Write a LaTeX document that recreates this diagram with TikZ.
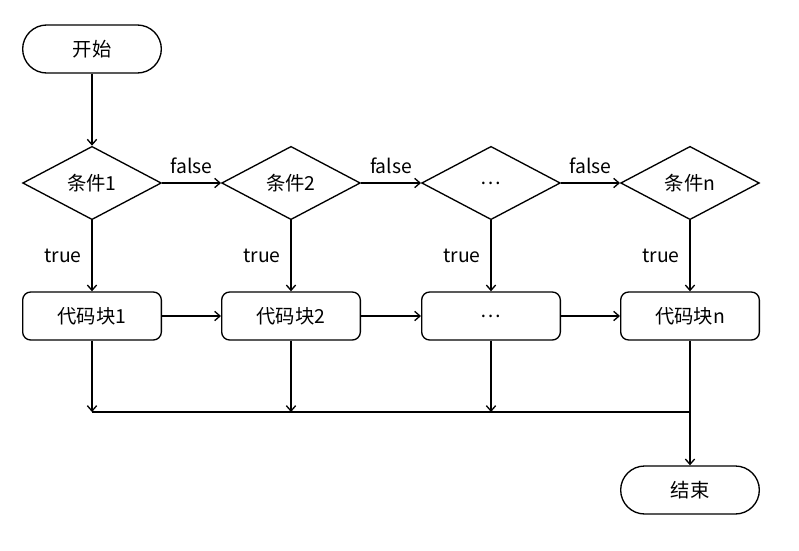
\documentclass[tikz,border=0pt]{standalone}
\usepackage{fontspec}
\setmainfont{Noto Sans CJK SC}
\usetikzlibrary{shapes.geometric,arrows.meta}
\tikzset{
    term/.style={draw,line width=1pt,rounded corners=18pt,minimum width=104pt,minimum height=36pt},
    cond/.style={draw,line width=1pt,diamond,aspect=1.9,inner sep=0pt,minimum width=104pt,minimum height=55pt},
    blk/.style={draw,line width=1pt,rounded corners=6pt,minimum width=104pt,minimum height=36pt},
    flow/.style={line width=1pt,-{Straight Barb[length=4pt,width=7pt]}}
}
\begin{document}
\begin{tikzpicture}[x=0.75pt,y=-0.75pt,font=\fontsize{14.5pt}{17pt}\selectfont]
            \useasboundingbox (0,0) rectangle (799,550);
            \node[term] (start) at (92,49) {开始};
            
            \node[cond] (c1) at (92,183) {条件1};
            \node[cond] (c2) at (291,183) {条件2};
            \node[cond] (c3) at (491,183) {…};
            \node[cond] (cn) at (690,183) {条件n};
            
            \node[blk] (b1) at (92,316) {代码块1};
            \node[blk] (b2) at (291,316) {代码块2};
            \node[blk] (b3) at (491,316) {…};
            \node[blk] (bn) at (690,316) {代码块n};
            
            \node[term] (end) at (690,490) {结束};
            \coordinate (jn) at (690,412);
            
            \draw[flow] (start)--(c1);
            \draw[flow] (c1.east)--node[above=3pt] {false}(c2.west);
            \draw[flow] (c2.east)--node[above=3pt] {false}(c3.west);
            \draw[flow] (c3.east)--node[above=3pt] {false}(cn.west);
            
            \draw[flow] (c1)--node[left=4pt] {true}(b1);
            \draw[flow] (c2)--node[left=4pt] {true}(b2);
            \draw[flow] (c3)--node[left=4pt] {true}(b3);
            \draw[flow] (cn)--node[left=4pt] {true}(bn);
            
            \draw[flow] (b1.east)--(b2.west);
            \draw[flow] (b2.east)--(b3.west);
            \draw[flow] (b3.east)--(bn.west);
            
            \draw[flow] (b1)--(b1 |- jn);
            \draw[flow] (b2)--(b2 |- jn);
            \draw[flow] (b3)--(b3 |- jn);
            \draw[line width=1pt] (b1 |- jn)--(jn);
            \draw[flow] (bn)--(end);
\end{tikzpicture}
\end{document}
